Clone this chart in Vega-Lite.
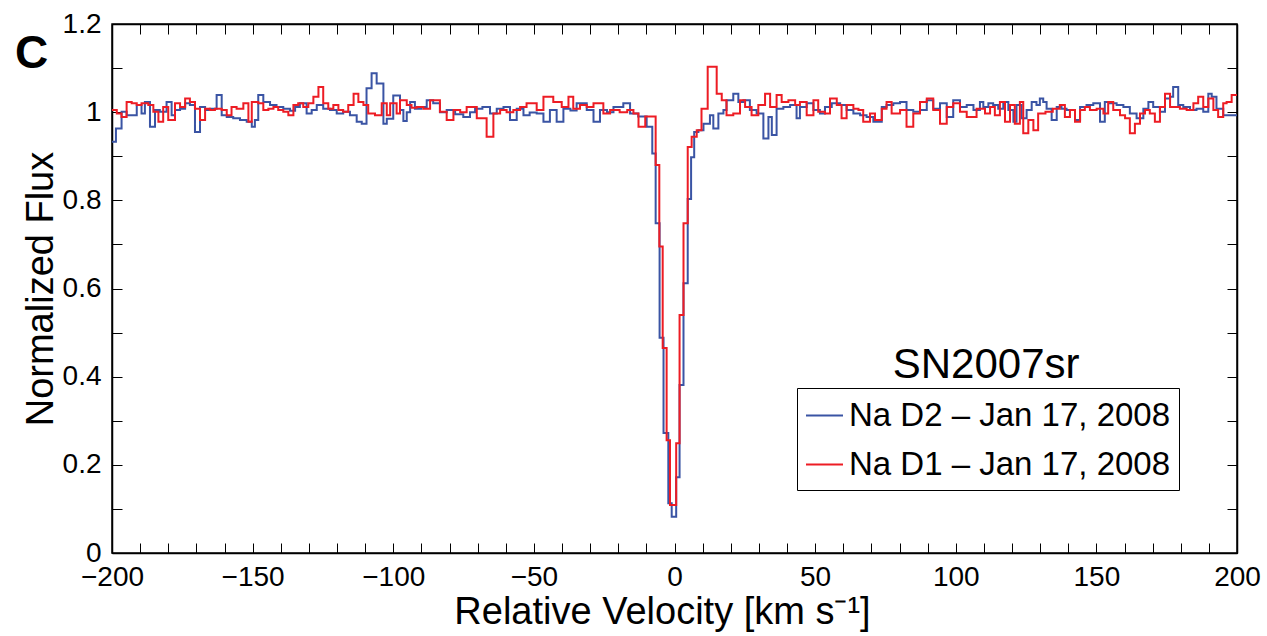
{
"$schema":"https://vega.github.io/schema/vega-lite/v6.json",
"width":1125,"height":529,
"autosize":{"type":"none"},
"padding":{"left":112,"top":24,"right":30,"bottom":83},
"background":"white",
"config":{"font":"Liberation Sans","view":{"stroke":"black","strokeWidth":1.5}},
"datasets":{
"d2":[{"v":-200,"f":0.933},{"v":-198.6,"f":0.963},{"v":-196.6,"f":1.001},{"v":-194.8,"f":0.993},{"v":-191.2,"f":1.016},{"v":-189.5,"f":0.997},{"v":-188.3,"f":1.023},{"v":-186.5,"f":0.967},{"v":-184.7,"f":1.005},{"v":-183,"f":1.001},{"v":-180.6,"f":1.023},{"v":-178.8,"f":0.993},{"v":-177.6,"f":1.005},{"v":-175.8,"f":1.008},{"v":-174,"f":1.02},{"v":-172.3,"f":1.016},{"v":-170.5,"f":0.955},{"v":-168.7,"f":1.012},{"v":-166.9,"f":1.005},{"v":-165.2,"f":1.008},{"v":-162.8,"f":1.039},{"v":-161,"f":0.993},{"v":-159.2,"f":0.989},{"v":-156.9,"f":0.986},{"v":-154.5,"f":0.982},{"v":-152.1,"f":0.978},{"v":-150.3,"f":0.967},{"v":-149.2,"f":0.982},{"v":-148,"f":1.039},{"v":-146.2,"f":1.023},{"v":-143.8,"f":1.016},{"v":-141.5,"f":1.012},{"v":-139.1,"f":1.008},{"v":-136.7,"f":1.003},{"v":-134.9,"f":1.012},{"v":-133.2,"f":1.02},{"v":-130.8,"f":0.997},{"v":-129,"f":1.005},{"v":-127.2,"f":1.016},{"v":-124.9,"f":1.008},{"v":-122.5,"f":1.005},{"v":-120.1,"f":0.997},{"v":-117.8,"f":1.001},{"v":-115.4,"f":0.993},{"v":-113,"f":0.978},{"v":-111.2,"f":0.974},{"v":-109.5,"f":1.054},{"v":-107.7,"f":1.088},{"v":-105.9,"f":1.065},{"v":-103.5,"f":0.974},{"v":-102.3,"f":0.985},{"v":-100,"f":1.038},{"v":-97.6,"f":1.005},{"v":-96.4,"f":0.98},{"v":-95.2,"f":1.0},{"v":-94,"f":1.023},{"v":-92.3,"f":1.008},{"v":-90,"f":1.012},{"v":-88.1,"f":1.027},{"v":-85.8,"f":1.02},{"v":-83.4,"f":1.0},{"v":-81,"f":1.005},{"v":-78,"f":0.995},{"v":-75.1,"f":0.989},{"v":-72.7,"f":1.0},{"v":-70.9,"f":1.008},{"v":-68.3,"f":1.012},{"v":-65.6,"f":0.997},{"v":-63.2,"f":1.008},{"v":-60.8,"f":1.012},{"v":-58.5,"f":0.982},{"v":-56.1,"f":1.008},{"v":-53.7,"f":0.993},{"v":-51.5,"f":0.999},{"v":-49,"f":0.997},{"v":-46.6,"f":0.978},{"v":-44.3,"f":1.005},{"v":-41.9,"f":0.978},{"v":-39.5,"f":1.008},{"v":-37,"f":1.004},{"v":-34.8,"f":1.02},{"v":-31.2,"f":1.005},{"v":-28.8,"f":0.978},{"v":-26.5,"f":1.005},{"v":-24,"f":1.0},{"v":-21.7,"f":1.012},{"v":-18.2,"f":1.02},{"v":-15.8,"f":0.997},{"v":-12.9,"f":0.99},{"v":-9.9,"f":0.967},{"v":-7.9,"f":0.906},{"v":-6.7,"f":0.748},{"v":-5.3,"f":0.488},{"v":-3.9,"f":0.272},{"v":-2.2,"f":0.113},{"v":-1.0,"f":0.082},{"v":0.6,"f":0.172},{"v":1.8,"f":0.381},{"v":3.2,"f":0.612},{"v":4.7,"f":0.803},{"v":5.9,"f":0.898},{"v":7.0,"f":0.955},{"v":8.5,"f":0.959},{"v":10.3,"f":0.974},{"v":12.6,"f":0.993},{"v":13.8,"f":0.963},{"v":15.6,"f":0.997},{"v":17.4,"f":1.005},{"v":18.5,"f":1.027},{"v":20.9,"f":1.042},{"v":22.7,"f":1.023},{"v":24.5,"f":1.027},{"v":26.8,"f":1.005},{"v":29.2,"f":0.997},{"v":31.6,"f":0.94},{"v":33.4,"f":0.989},{"v":34.6,"f":0.948},{"v":36.3,"f":1.008},{"v":38.7,"f":1.012},{"v":41.1,"f":1.016},{"v":43.4,"f":0.986},{"v":44.6,"f":1.012},{"v":47,"f":1.02},{"v":49.4,"f":1.005},{"v":51.7,"f":0.997},{"v":53.5,"f":1.012},{"v":55.9,"f":1.02},{"v":58.9,"f":1.016},{"v":61.2,"f":1.005},{"v":63.6,"f":0.997},{"v":66,"f":0.993},{"v":68.3,"f":0.989},{"v":70.7,"f":0.978},{"v":73.7,"f":1.012},{"v":75.4,"f":1.016},{"v":77.8,"f":1.02},{"v":80.2,"f":1.023},{"v":82.5,"f":1.005},{"v":84.9,"f":1.001},{"v":87.3,"f":1.005},{"v":89.7,"f":1.027},{"v":92,"f":1.008},{"v":94.4,"f":1.02},{"v":96.8,"f":0.989},{"v":99.1,"f":1.027},{"v":101.5,"f":1.012},{"v":103.9,"f":1.016},{"v":106.3,"f":1.005},{"v":108.6,"f":1.023},{"v":109.8,"f":1.012},{"v":111.6,"f":1.02},{"v":113.3,"f":1.016},{"v":115.1,"f":1.008},{"v":116.9,"f":1.023},{"v":118.7,"f":1.005},{"v":120.5,"f":0.978},{"v":121.6,"f":1.016},{"v":123.4,"f":0.986},{"v":125.2,"f":1.005},{"v":127,"f":1.023},{"v":128.7,"f":1.016},{"v":129.9,"f":1.031},{"v":131.1,"f":1.023},{"v":132.3,"f":1.008},{"v":134.1,"f":0.982},{"v":135.9,"f":1.012},{"v":137.6,"f":1.008},{"v":139.4,"f":1.005},{"v":142.4,"f":0.982},{"v":144.2,"f":1.012},{"v":146.5,"f":1.016},{"v":148.9,"f":1.02},{"v":151.3,"f":0.978},{"v":153,"f":1.023},{"v":154.8,"f":1.02},{"v":157.2,"f":1.016},{"v":159.6,"f":1.012},{"v":161.9,"f":0.997},{"v":164.3,"f":0.986},{"v":166.7,"f":1.008},{"v":168.5,"f":1.023},{"v":170.2,"f":1.012},{"v":172.6,"f":1.001},{"v":174.4,"f":1.031},{"v":176.2,"f":1.035},{"v":177.3,"f":1.057},{"v":179.1,"f":1.016},{"v":180.9,"f":1.012},{"v":183.3,"f":1.005},{"v":185.6,"f":1.008},{"v":188,"f":1.001},{"v":189.8,"f":1.042},{"v":191,"f":1.035},{"v":192.7,"f":1.008},{"v":195.1,"f":0.993},{"v":197.5,"f":0.993},{"v":200,"f":0.993}],
"d1":[{"v":-200,"f":1.005},{"v":-198.3,"f":0.997},{"v":-196.6,"f":0.989},{"v":-194.8,"f":1.023},{"v":-193,"f":1.02},{"v":-191.2,"f":1.016},{"v":-189.5,"f":1.02},{"v":-187.1,"f":1.016},{"v":-185.3,"f":1.001},{"v":-183.5,"f":0.978},{"v":-181.8,"f":1.012},{"v":-180,"f":0.982},{"v":-177.6,"f":1.02},{"v":-175.8,"f":1.012},{"v":-174,"f":1.031},{"v":-172.3,"f":1.023},{"v":-170.5,"f":1.008},{"v":-168.7,"f":0.982},{"v":-166.9,"f":1.008},{"v":-165.2,"f":1.005},{"v":-163.4,"f":1.008},{"v":-161,"f":1.005},{"v":-159.2,"f":0.993},{"v":-157.5,"f":1.012},{"v":-155.7,"f":1.008},{"v":-153.3,"f":1.02},{"v":-151.5,"f":0.978},{"v":-150.3,"f":1.023},{"v":-148,"f":1.02},{"v":-146.2,"f":1.005},{"v":-144.4,"f":1.008},{"v":-142.6,"f":1.012},{"v":-140.9,"f":1.005},{"v":-139.1,"f":1.001},{"v":-137.3,"f":0.993},{"v":-135.5,"f":1.016},{"v":-133.8,"f":1.02},{"v":-132,"f":1.012},{"v":-130.2,"f":1.02},{"v":-128.4,"f":1.035},{"v":-126.6,"f":1.057},{"v":-124.9,"f":1.02},{"v":-123.1,"f":1.008},{"v":-121.3,"f":1.016},{"v":-119.5,"f":1.005},{"v":-117.8,"f":1.001},{"v":-116,"f":1.016},{"v":-114.1,"f":1.042},{"v":-112.4,"f":1.023},{"v":-110.6,"f":1.016},{"v":-108.9,"f":0.997},{"v":-106.5,"f":0.993},{"v":-104.1,"f":1.02},{"v":-102.3,"f":0.993},{"v":-101.1,"f":1.02},{"v":-98.8,"f":0.997},{"v":-97.6,"f":1.027},{"v":-95.2,"f":1.016},{"v":-93.5,"f":1.01},{"v":-91.7,"f":1.012},{"v":-89.3,"f":1.008},{"v":-86.9,"f":1.027},{"v":-83.4,"f":1.001},{"v":-81,"f":0.982},{"v":-78.6,"f":1.005},{"v":-76.2,"f":1.0},{"v":-73.9,"f":1.012},{"v":-70.3,"f":0.986},{"v":-66.8,"f":0.944},{"v":-64.4,"f":0.997},{"v":-62,"f":1.005},{"v":-59.7,"f":1.0},{"v":-57.3,"f":1.005},{"v":-54.9,"f":1.012},{"v":-52.6,"f":1.02},{"v":-49,"f":1.005},{"v":-46.6,"f":1.035},{"v":-43.1,"f":1.023},{"v":-40.1,"f":1.012},{"v":-37.7,"f":1.035},{"v":-36,"f":1.008},{"v":-33.6,"f":1.016},{"v":-31.2,"f":1.012},{"v":-28.8,"f":1.02},{"v":-25.3,"f":0.997},{"v":-22.9,"f":1.005},{"v":-19.5,"f":1.0},{"v":-16.8,"f":1.005},{"v":-14.6,"f":0.997},{"v":-12.8,"f":0.967},{"v":-10.4,"f":0.99},{"v":-6.7,"f":0.88},{"v":-5.4,"f":0.695},{"v":-4.2,"f":0.465},{"v":-2.8,"f":0.256},{"v":-1.6,"f":0.109},{"v":0.6,"f":0.249},{"v":1.8,"f":0.54},{"v":3.2,"f":0.748},{"v":4.7,"f":0.921},{"v":6.1,"f":0.944},{"v":7.9,"f":0.959},{"v":9.6,"f":1.008},{"v":11.8,"f":1.103},{"v":15,"f":1.042},{"v":16.8,"f":1.027},{"v":18.5,"f":0.993},{"v":20.9,"f":0.997},{"v":23.3,"f":1.027},{"v":25.1,"f":1.012},{"v":27.4,"f":0.993},{"v":29.8,"f":1.016},{"v":32.2,"f":1.042},{"v":34,"f":1.012},{"v":36.3,"f":1.039},{"v":38.1,"f":1.023},{"v":40.5,"f":1.027},{"v":42.9,"f":1.016},{"v":44.6,"f":1.023},{"v":47,"f":0.993},{"v":49.4,"f":1.027},{"v":51.1,"f":1.001},{"v":53.5,"f":0.997},{"v":55.3,"f":1.031},{"v":57.7,"f":1.016},{"v":59.4,"f":0.986},{"v":61.2,"f":1.016},{"v":63.6,"f":1.008},{"v":65.4,"f":1.005},{"v":67.1,"f":0.978},{"v":69.5,"f":0.997},{"v":71.3,"f":0.982},{"v":73.7,"f":1.008},{"v":75.4,"f":1.023},{"v":77.2,"f":0.997},{"v":80.2,"f":1.005},{"v":82.5,"f":0.967},{"v":84.9,"f":0.997},{"v":87.3,"f":1.023},{"v":89.7,"f":1.031},{"v":92,"f":1.005},{"v":94.4,"f":0.974},{"v":96.8,"f":1.012},{"v":99.1,"f":1.02},{"v":101.5,"f":1.001},{"v":103.9,"f":0.989},{"v":107.4,"f":1.008},{"v":110.4,"f":0.997},{"v":112.2,"f":1.012},{"v":113.9,"f":0.993},{"v":115.7,"f":1.023},{"v":117.5,"f":0.978},{"v":119.3,"f":1.016},{"v":121,"f":0.974},{"v":122.8,"f":1.023},{"v":124,"f":0.952},{"v":125.8,"f":0.982},{"v":127.6,"f":0.959},{"v":129.3,"f":0.997},{"v":131.9,"f":1.001},{"v":134.5,"f":1.008},{"v":137,"f":1.016},{"v":138.8,"f":0.989},{"v":140.6,"f":1.005},{"v":142.4,"f":0.978},{"v":144.2,"f":1.005},{"v":145.9,"f":1.012},{"v":147.7,"f":1.005},{"v":150.1,"f":1.008},{"v":152.5,"f":0.997},{"v":154.2,"f":1.023},{"v":156,"f":1.005},{"v":158.4,"f":0.993},{"v":160.2,"f":0.986},{"v":161.9,"f":0.952},{"v":163.7,"f":0.974},{"v":165.5,"f":0.997},{"v":167.3,"f":1.005},{"v":169,"f":0.997},{"v":170.8,"f":0.978},{"v":172.6,"f":1.012},{"v":174.4,"f":1.042},{"v":176.2,"f":1.012},{"v":179.7,"f":1.008},{"v":182.1,"f":1.005},{"v":184.5,"f":1.02},{"v":186.2,"f":1.035},{"v":188,"f":1.012},{"v":189.8,"f":1.031},{"v":191.6,"f":1.005},{"v":193.3,"f":0.989},{"v":195.1,"f":1.02},{"v":196.3,"f":1.023},{"v":198.1,"f":1.039},{"v":200,"f":1.039}]
},
"resolve":{"axis":{"x":"independent","y":"independent"}},
"layer":[
{"data":{"name":"d2"},
 "mark":{"type":"line","interpolate":"step-after","strokeWidth":2,"clip":true},
 "encoding":{
  "x":{"field":"v","type":"quantitative","scale":{"domain":[-200,200],"nice":false,"zero":false},
   "axis":{"orient":"bottom","values":[-200,-190,-180,-170,-160,-150,-140,-130,-120,-110,-100,-90,-80,-70,-60,-50,-40,-30,-20,-10,0,10,20,30,40,50,60,70,80,90,100,110,120,130,140,150,160,170,180,190,200],
    "tickSize":-10,"tickColor":"black","tickWidth":1,"domainColor":"black","domainWidth":1.5,"grid":false,
    "labelExpr":"datum.value % 50 === 0 ? format(datum.value, 'd') : ''",
    "labelFont":"Liberation Sans","labelFontSize":28,"labelColor":"black","labelPadding":20,"labelFlush":false,"labelOverlap":false,"labelBound":false,
    "title":"Relative Velocity [km s⁻¹]","titleFont":"Liberation Sans","titleFontSize":38,"titleFontWeight":"normal","titleColor":"black","titlePadding":2,"titleX":550}},
  "y":{"field":"f","type":"quantitative","scale":{"domain":[0,1.2],"nice":false,"zero":false},
   "axis":{"orient":"left","values":[0,0.1,0.2,0.3,0.4,0.5,0.6,0.7,0.8,0.9,1,1.1,1.2],
    "tickSize":-10,"tickColor":"black","tickWidth":1,"domainColor":"black","domainWidth":1.5,"grid":false,
    "labelExpr":"round(datum.value*10) % 2 === 0 ? format(datum.value, '~g') : ''",
    "labelFont":"Liberation Sans","labelFontSize":28,"labelColor":"black","labelPadding":21,"labelFlush":false,"labelOverlap":false,"labelBound":false,
    "title":"Normalized Flux","titleFont":"Liberation Sans","titleFontSize":38,"titleFontWeight":"normal","titleColor":"black","titlePadding":2}},
  "color":{"datum":"Na D2 – Jan 17, 2008","type":"nominal",
   "scale":{"domain":["Na D2 – Jan 17, 2008","Na D1 – Jan 17, 2008"],"range":["#3A54A4","#ED1C24"]},
   "legend":{"orient":"none","legendX":685,"legendY":364,"title":null,"symbolType":"stroke","symbolSize":1369,"symbolStrokeWidth":2,
    "labelFont":"Liberation Sans","labelFontSize":33,"labelLimit":0,"labelColor":"black","labelOffset":5,"strokeColor":"black","fillColor":"white","padding":8,"rowPadding":12}}
 }},
{"data":{"name":"d1"},
 "mark":{"type":"line","interpolate":"step-after","strokeWidth":2,"clip":true},
 "encoding":{
  "x":{"field":"v","type":"quantitative","scale":{"domain":[-200,200],"nice":false,"zero":false},"axis":null},
  "y":{"field":"f","type":"quantitative","scale":{"domain":[0,1.2],"nice":false,"zero":false},"axis":null},
  "color":{"datum":"Na D1 – Jan 17, 2008","type":"nominal"}
 }},
{"data":{"values":[{"t":"SN2007sr"}]},
 "mark":{"type":"text","font":"Liberation Sans","fontSize":42,"align":"center","baseline":"alphabetic","color":"black"},
 "encoding":{
  "text":{"field":"t"},
  "x":{"datum":110.8,"type":"quantitative","scale":{"domain":[-200,200],"nice":false,"zero":false},
   "axis":{"orient":"top","values":[-200,-190,-180,-170,-160,-150,-140,-130,-120,-110,-100,-90,-80,-70,-60,-50,-40,-30,-20,-10,0,10,20,30,40,50,60,70,80,90,100,110,120,130,140,150,160,170,180,190,200],"tickSize":-10,"tickColor":"black","tickWidth":1,"domainColor":"black","domainWidth":1.5,"labels":false,"title":null,"grid":false}},
  "y":{"datum":0.397,"type":"quantitative","scale":{"domain":[0,1.2],"nice":false,"zero":false},
   "axis":{"orient":"right","values":[0,0.1,0.2,0.3,0.4,0.5,0.6,0.7,0.8,0.9,1,1.1,1.2],"tickSize":-10,"tickColor":"black","tickWidth":1,"domainColor":"black","domainWidth":1.5,"labels":false,"title":null,"grid":false}}
 }},
{"data":{"values":[{"t":"C"}]},
 "mark":{"type":"text","font":"Liberation Sans","fontSize":46,"fontWeight":"bold","align":"left","baseline":"alphabetic","color":"black"},
 "encoding":{
  "text":{"field":"t"},
  "x":{"datum":-234.5,"type":"quantitative","scale":{"domain":[-200,200],"nice":false,"zero":false},"axis":null},
  "y":{"datum":1.1,"type":"quantitative","scale":{"domain":[0,1.2],"nice":false,"zero":false},"axis":null}
 }}
]
}
